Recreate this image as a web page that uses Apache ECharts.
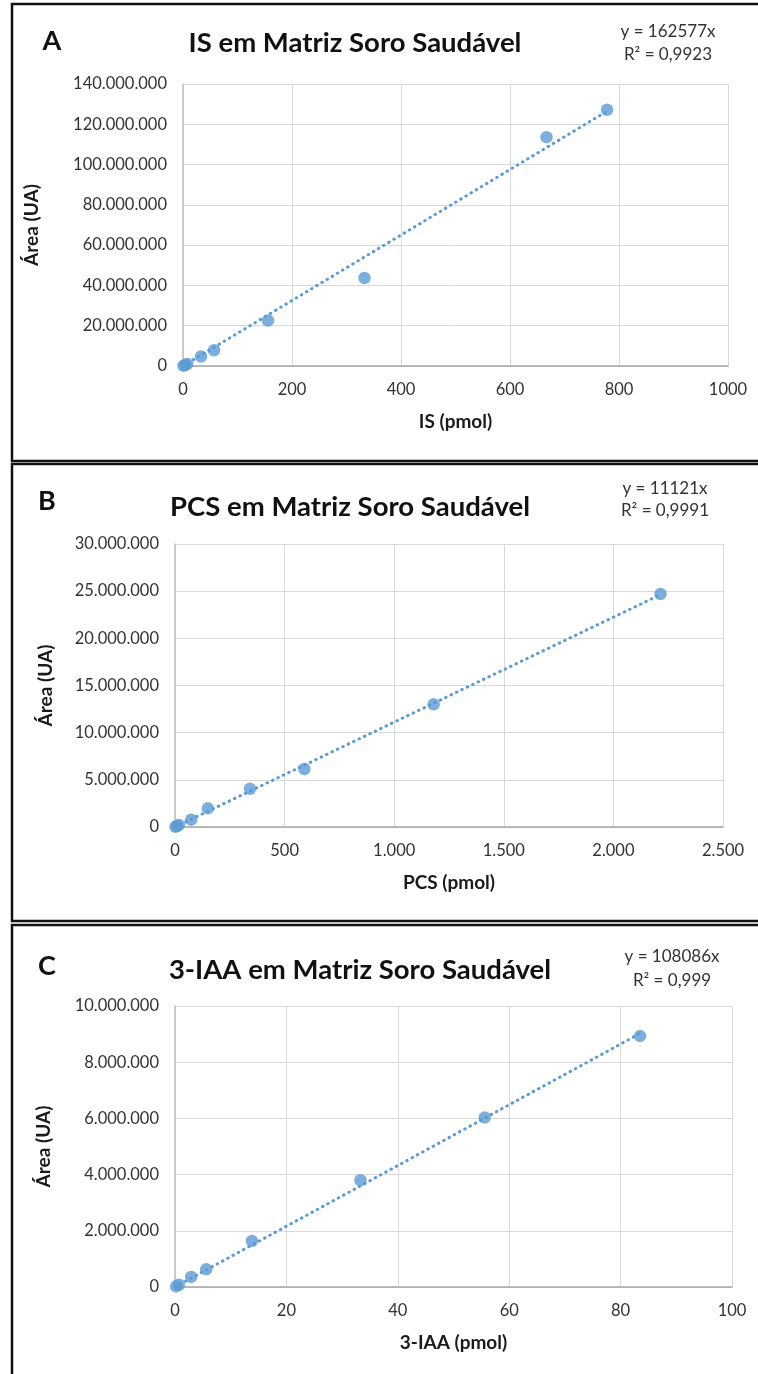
<!DOCTYPE html>
<html>
<head>
<meta charset="utf-8">
<script src="https://cdn.jsdelivr.net/npm/echarts@6/dist/echarts.min.js"></script>
<style>
  html, body { margin: 0; padding: 0; background: #fff; }
  #chart { width: 758px; height: 1374px; }
</style>
</head>
<body>
<div id="chart"></div>
<script>
// Calibration data, three analytes in healthy serum matrix
const isX  = [0.8, 3.9, 7.8, 33, 57, 156, 333, 667, 778];
const isY  = [0.1e6, 0.5e6, 1.0e6, 4.7e6, 7.8e6, 22.6e6, 43.7e6, 113.6e6, 127.2e6];
const isSlope = 162577;

const pcsX = [2, 9, 18, 74, 150, 342, 590, 1180, 2215];
const pcsY = [0.02e6, 0.1e6, 0.2e6, 0.78e6, 1.98e6, 4.05e6, 6.15e6, 13.0e6, 24.7e6];
const pcsSlope = 11121;

const iaaX = [0.2, 0.7, 2.9, 5.6, 13.8, 33.3, 55.6, 83.5];
const iaaY = [0.02e6, 0.08e6, 0.36e6, 0.63e6, 1.64e6, 3.80e6, 6.03e6, 8.93e6];
const iaaSlope = 108086;

const panelLetters = ['A', 'B', 'C'];
const titles = ['IS em Matriz Soro Saudável', 'PCS em Matriz Soro Saudável', '3-IAA em Matriz Soro Saudável'];
const xNames = ['IS (pmol)', 'PCS (pmol)', '3-IAA (pmol)'];
const yName = 'Área (UA)';
const equations = [
  ['y = 162577x', 'R² = 0,9923'],
  ['y = 11121x', 'R² = 0,9991'],
  ['y = 108086x', 'R² = 0,999']
];

const FONT = 'Lato, "Open Sans", sans-serif';
const BLUE = '#5B9BD5';

// dotted thousands separator, e.g. 140.000.000
function dotted(v) {
  return String(Math.round(v)).replace(/\B(?=(\d{3})+(?!\d))/g, '.');
}

const panels = [
  { xs: isX, ys: isY, slope: isSlope, xMax: 1000, xInt: 200, yMax: 140e6, yInt: 20e6, xFmt: v => String(v),
    grid: { left: 183, right: 30, top: 84, height: 282 }, yNameGap: 142, xNameGap: 46,
    letter: [52, 41], title: [355, 43], eq: [668, 32, 55] },
  { xs: pcsX, ys: pcsY, slope: pcsSlope, xMax: 2500, xInt: 500, yMax: 30e6, yInt: 5e6, xFmt: dotted,
    grid: { left: 175, right: 35, top: 544, height: 283 }, yNameGap: 120, xNameGap: 46,
    letter: [47, 501], title: [350, 507], eq: [665, 489, 511] },
  { xs: iaaX, ys: iaaY, slope: iaaSlope, xMax: 100, xInt: 20, yMax: 10e6, yInt: 2e6, xFmt: v => String(v),
    grid: { left: 175, right: 26, top: 1006, height: 281 }, yNameGap: 122, xNameGap: 46,
    letter: [47, 966], title: [360, 970], eq: [672, 957, 981] }
];

const grids = [], xAxes = [], yAxes = [], series = [], graphics = [];

// panel frames
[[4, 461], [464, 921], [925, 1385]].forEach(([t, b]) => {
  graphics.push({ type: 'rect', shape: { x: 12, y: t, width: 800, height: b - t },
    style: { fill: 'none', stroke: '#111', lineWidth: 2.5 }, z: 0 });
});

panels.forEach((p, i) => {
  grids.push(Object.assign({ containLabel: false }, p.grid));
  xAxes.push({
    type: 'value', gridIndex: i, min: 0, max: p.xMax, interval: p.xInt,
    name: xNames[i], nameLocation: 'middle', nameGap: p.xNameGap,
    nameTextStyle: { fontFamily: FONT, fontWeight: 'bold', fontSize: 19, color: '#1a1a1a' },
    axisLine: { show: true, lineStyle: { color: '#A6A6A6', width: 1.5 } },
    axisTick: { show: false },
    axisLabel: { fontFamily: FONT, fontSize: 16.5, color: '#333', margin: 15, formatter: p.xFmt },
    splitLine: { show: true, lineStyle: { color: '#D9D9D9', width: 1 } }
  });
  yAxes.push({
    type: 'value', gridIndex: i, min: 0, max: p.yMax, interval: p.yInt,
    name: yName, nameLocation: 'middle', nameGap: p.yNameGap, nameRotate: 90,
    nameTextStyle: { fontFamily: FONT, fontWeight: 'bold', fontSize: 19, color: '#1a1a1a' },
    axisLine: { show: true, lineStyle: { color: '#BFBFBF', width: 1.5 } },
    axisTick: { show: false },
    axisLabel: { fontFamily: FONT, fontSize: 16.5, color: '#333', margin: 16, formatter: dotted },
    splitLine: { show: true, lineStyle: { color: '#D9D9D9', width: 1 } }
  });
  const xEnd = Math.max.apply(null, p.xs);
  // linear trendline through the origin, slope as stated in the equation
  series.push({
    type: 'line', xAxisIndex: i, yAxisIndex: i, symbol: 'none', silent: true, z: 2,
    data: [[0, 0], [xEnd, p.slope * xEnd]],
    lineStyle: { color: BLUE, width: 3, type: [0.5, 5.5], cap: 'round' }
  });
  series.push({
    type: 'scatter', xAxisIndex: i, yAxisIndex: i, symbol: 'circle', symbolSize: 12.5, z: 3,
    itemStyle: { color: BLUE },
    data: p.xs.map((x, k) => [x, p.ys[k]])
  });
  graphics.push({ type: 'text', x: p.letter[0], y: p.letter[1], z: 5,
    style: { text: panelLetters[i], font: 'bold 27px ' + FONT, fill: '#111', textAlign: 'center', textVerticalAlign: 'middle' } });
  graphics.push({ type: 'text', x: p.title[0], y: p.title[1], z: 5,
    style: { text: titles[i], font: 'bold 27.5px ' + FONT, fill: '#111', textAlign: 'center', textVerticalAlign: 'middle' } });
  graphics.push({ type: 'text', x: p.eq[0], y: p.eq[1], z: 5,
    style: { text: equations[i][0], font: '17px ' + FONT, fill: '#333', textAlign: 'center', textVerticalAlign: 'middle' } });
  graphics.push({ type: 'text', x: p.eq[0], y: p.eq[2], z: 5,
    style: { text: equations[i][1], font: '17px ' + FONT, fill: '#333', textAlign: 'center', textVerticalAlign: 'middle' } });
});

const chart = echarts.init(document.getElementById('chart'), null, { renderer: 'canvas' });
chart.setOption({
  animation: false,
  backgroundColor: '#fff',
  grid: grids, xAxis: xAxes, yAxis: yAxes, series: series, graphic: graphics
});
</script>
</body>
</html>
